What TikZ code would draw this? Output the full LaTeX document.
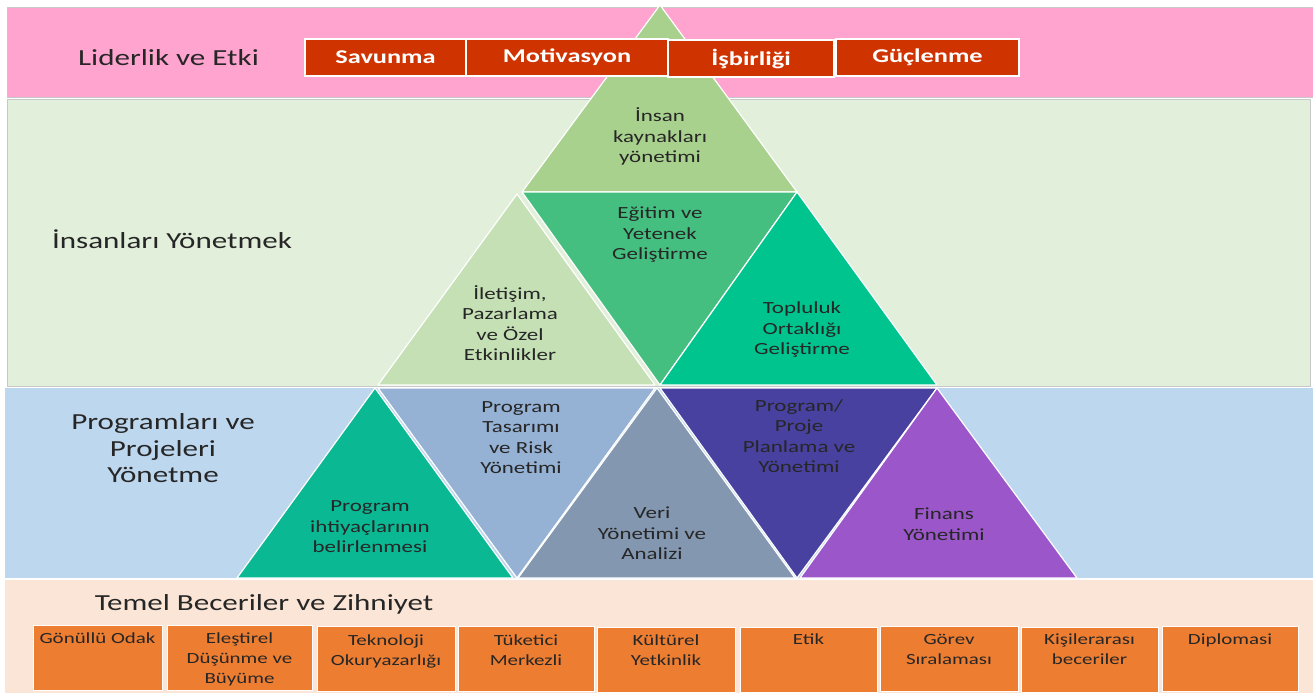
\documentclass[tikz,border=0pt]{standalone}
\usepackage{fontspec}
\setmainfont{Carlito}[FakeStretch=1.35]
\definecolor{pinkband}{HTML}{FFA3CF}
\definecolor{greenband}{HTML}{E2EFDA}
\definecolor{blueband}{HTML}{BDD7EE}
\definecolor{peachband}{HTML}{FBE5D6}
\definecolor{bandline}{HTML}{C8C8C8}
\definecolor{txt}{HTML}{262626}
\definecolor{redc}{HTML}{CF3400}
\definecolor{orangec}{HTML}{ED7D31}
\definecolor{tA}{HTML}{A9D18E}
\definecolor{tB}{HTML}{C5E0B4}
\definecolor{tC}{HTML}{45BF80}
\definecolor{tD}{HTML}{00C48E}
\definecolor{tE}{HTML}{0BB894}
\definecolor{tF}{HTML}{95B1D4}
\definecolor{tG}{HTML}{8497B0}
\definecolor{tH}{HTML}{4841A0}
\definecolor{tI}{HTML}{9B57C9}
\begin{document}
\begin{tikzpicture}[x=1pt,y=-1pt,
  band/.style={draw=bandline,line width=0.8pt},
  tri/.style={draw=white,line width=1.2pt,line join=round},
  trilabel/.style={align=center,text=txt,font=\fontsize{17}{20.5}\selectfont,inner sep=0pt},
  side/.style={text=txt,font=\fontsize{23}{26.5}\selectfont,align=center,inner sep=0pt},
  redbox/.style={fill=redc,draw=white,line width=1.2pt,text=white,font=\bfseries\fontsize{19.5}{22}\selectfont,inner sep=0pt,minimum height=37pt},
  skill/.style={fill=orangec,draw=white,line width=1pt},
  skilltext/.style={align=center,text=txt,font=\fontsize{15.5}{20}\selectfont,inner sep=0pt,anchor=north}
]
\useasboundingbox (0,0) rectangle (1313,693);
\fill[white] (0,0) rectangle (1313,693);
% bands
\fill[pinkband] (7,7) rectangle (1313,97);
\draw[bandline,line width=0.8pt] (7,97) -- (7,7) -- (1313,7);
\draw[bandline,line width=0.8pt] (7,97) -- (1313,97);
\fill[greenband] (7,99) rectangle (1310,386);
\draw[band] (7,99) rectangle (1310,386);
\fill[blueband] (5,388) rectangle (1313,578);
\fill[peachband] (5,580) rectangle (1313,693);
% row 1
\fill[tA,tri] (660,5) -- (797,192) -- (522,192) -- cycle;
% row 2
\fill[tB,tri] (517,194) -- (655,385) -- (378,385) -- cycle;
\fill[tC,tri] (522,192) -- (797,192) -- (660,385) -- cycle;
\fill[tD,tri] (797,192) -- (937,385) -- (660,385) -- cycle;
% row 3
\fill[tE,tri] (375,388) -- (513,578) -- (237,578) -- cycle;
\fill[tF,tri] (378,388) -- (655,388) -- (517,578) -- cycle;
\fill[tG,tri] (657,388) -- (795,578) -- (518,578) -- cycle;
\fill[tH,tri] (660,388) -- (937,388) -- (797,578) -- cycle;
\fill[tI,tri] (937,388) -- (1077,578) -- (800,578) -- cycle;
% red boxes
\node[redbox,minimum width=161pt] (sav) at (385.5,57.5) {Savunma};
\node[redbox,minimum width=202pt] (mot) at (567,57.5) {Motivasyon};
\node[redbox,minimum width=166pt] (isb) at (751,58.5) {İşbirliği};
\node[redbox,minimum width=183pt] (guc) at (927.5,57.5) {Güçlenme};
% side labels
\node[side,anchor=base] (lid) at (168.5,66) {Liderlik ve Etki};
\node[side,anchor=base] (ins) at (172,248) {İnsanları Yönetmek};
\node[side] (prg) at (163,451) {\strut Programları ve\\\strut Projeleri\\\strut Yönetme};
\node[side,anchor=base] (tem) at (264,610) {Temel Beceriler ve Zihniyet};
% triangle labels
\node[trilabel] (l1) at (660,138) {\strut İnsan\\\strut kaynakları\\\strut yönetimi};
\node[trilabel] (l2) at (660,235) {\strut Eğitim ve\\\strut Yetenek\\\strut Geliştirme};
\node[trilabel] (l3) at (510,326) {\strut İletişim,\\\strut Pazarlama\\\strut ve Özel\\\strut Etkinlikler};
\node[trilabel] (l4) at (802,330) {\strut Topluluk\\\strut Ortaklığı\\\strut Geliştirme};
\node[trilabel] (l5) at (370,528) {\strut Program\\\strut ihtiyaçlarının\\\strut belirlenmesi};
\node[trilabel] (l6) at (521,439) {\strut Program\\\strut Tasarımı\\\strut ve Risk\\\strut Yönetimi};
\node[trilabel] (l7) at (652,535) {\strut Veri\\\strut Yönetimi ve\\\strut Analizi};
\node[trilabel] (l8) at (799,438) {\strut Program/\\\strut Proje\\\strut Planlama ve\\\strut Yönetimi};
\node[trilabel] (l9) at (944,526) {\strut Finans\\\strut Yönetimi};
% skill boxes
\draw[skill] (33,625) rectangle (162,690);
\draw[skill] (167,625) rectangle (312,690);
\draw[skill] (317,626) rectangle (455,691);
\draw[skill] (458,626) rectangle (594,691);
\draw[skill] (597,627) rectangle (735,692);
\draw[skill] (740,627) rectangle (877,692);
\draw[skill] (880,626) rectangle (1018,691);
\draw[skill] (1021,627) rectangle (1158,692);
\draw[skill] (1162,626) rectangle (1298,691);
\node[skilltext] (s1) at (97.5,629) {\strut Gönüllü Odak};
\node[skilltext] (s2) at (239.5,629) {\strut Eleştirel\\\strut Düşünme ve\\\strut Büyüme};
\node[skilltext] (s3) at (386,631) {\strut Teknoloji\\\strut Okuryazarlığı};
\node[skilltext] (s4) at (526,631) {\strut Tüketici\\\strut Merkezli};
\node[skilltext] (s5) at (666,631) {\strut Kültürel\\\strut Yetkinlik};
\node[skilltext] (s6) at (808.5,630) {\strut Etik};
\node[skilltext] (s7) at (949,630) {\strut Görev\\\strut Sıralaması};
\node[skilltext] (s8) at (1089.5,630) {\strut Kişilerarası\\\strut beceriler};
\node[skilltext] (s9) at (1230,630) {\strut Diplomasi};
\end{tikzpicture}
\end{document}
